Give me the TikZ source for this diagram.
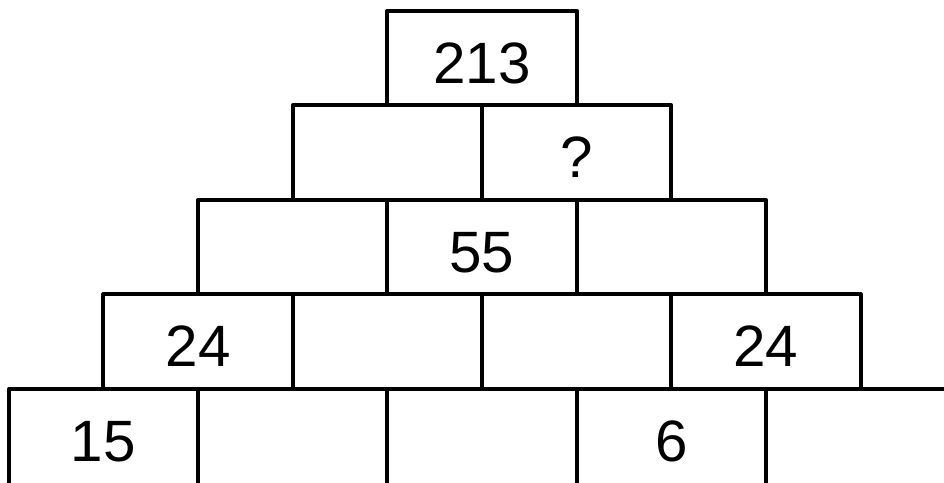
\documentclass[tikz,border=0pt]{standalone}
\usepackage{fontspec}
\setmainfont{Liberation Sans}

\begin{document}
\begin{tikzpicture}[line join=round,
    cell/.style={draw, line width=1.1pt, rectangle, inner sep=0pt, outer sep=0pt,
      minimum width=1.893cm, minimum height=0.945cm,
      text height=0.51cm, text depth=0pt, font=\fontsize{16.6}{20}\selectfont},
    basecell/.style={cell, minimum height=1.1cm, text height=0.42cm, text depth=0.055cm}]
    \useasboundingbox (0,0) rectangle (9.44,4.83);
    % top
    \node[cell] (top) at (4.82, 4.25) {213};
    % second row
    \node[cell] (b21) at (3.8735, 3.305) {};
    \node[cell] (b22) at (5.7665, 3.305) {?};
    % middle row
    \node[cell] (b31) at (2.927, 2.36) {};
    \node[cell] (b32) at (4.82, 2.36) {55};
    \node[cell] (b33) at (6.713, 2.36) {};
    % fourth row
    \node[cell] (b41) at (1.9805, 1.415) {24};
    \node[cell] (b42) at (3.8735, 1.415) {};
    \node[cell] (b43) at (5.7665, 1.415) {};
    \node[cell] (b44) at (7.6595, 1.415) {24};
    % base, runs off the bottom edge
    \node[basecell] (b51) at (1.034, 0.3925) {15};
    \node[basecell] (b52) at (2.927, 0.3925) {};
    \node[basecell] (b53) at (4.82, 0.3925) {};
    \node[basecell] (b54) at (6.713, 0.3925) {6};
    \node[basecell] (b55) at (8.606, 0.3925) {};
  \end{tikzpicture}
\end{document}
